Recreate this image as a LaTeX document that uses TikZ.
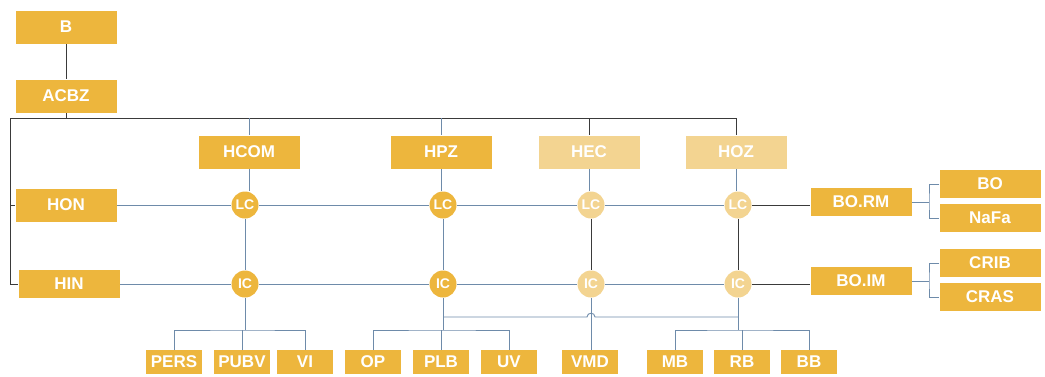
\documentclass[tikz,border=0pt]{standalone}
\usepackage{fontspec}
\setmainfont{Liberation Sans}
\usetikzlibrary{backgrounds}
\begin{document}
\begin{tikzpicture}[x=1pt,y=-1pt,
  box/.style={fill=gold,draw=none,inner sep=0pt,text=white,font=\bfseries\fontsize{17}{20}\selectfont,minimum width=101pt,minimum height=33pt},
  lbox/.style={box,fill=lgold},
  sbox/.style={box,minimum height=28pt},
  bbox/.style={box,minimum width=56pt,minimum height=24pt},
  circ/.style={circle,fill=gold,draw=none,inner sep=0pt,minimum size=27pt,text=white,font=\bfseries\fontsize{14}{16}\selectfont},
  lcirc/.style={circ,fill=lgold},
  bl/.style={draw=blueg,line width=0.9pt},
  dk/.style={draw=darkl,line width=0.9pt}]
\definecolor{gold}{HTML}{EDB63D}
\definecolor{lgold}{HTML}{F3D491}
\definecolor{blueg}{HTML}{6E8BAA}
\definecolor{darkl}{HTML}{3A3A3A}
\useasboundingbox (0,0) rectangle (1045,376);
% top boxes
\node[box] (b) at (66,27) {B};
\node[box] (acbz) at (66,96) {ACBZ};
\node[box] (hcom) at (249,152) {HCOM};
\node[box] (hpz) at (441,152) {HPZ};
\node[lbox] (hec) at (589,152) {HEC};
\node[lbox] (hoz) at (736,152) {HOZ};
\node[box] (hon) at (66,205) {HON};
\node[box,minimum height=28pt] (hin) at (69,284) {HIN};
% circles
\node[circ] (lc1) at (245,205) {LC};
\node[circ] (lc2) at (443,205) {LC};
\node[lcirc] (lc3) at (591,205) {LC};
\node[lcirc] (lc4) at (738,205) {LC};
\node[circ] (ic1) at (245,284) {IC};
\node[circ] (ic2) at (443,284) {IC};
\node[lcirc] (ic3) at (591,284) {IC};
\node[lcirc] (ic4) at (738,284) {IC};
% right boxes
\node[sbox] (borm) at (861,202) {BO.RM};
\node[sbox] (boim) at (861,281) {BO.IM};
\node[sbox] (bo) at (990,184) {BO};
\node[sbox] (nafa) at (990,218) {NaFa};
\node[sbox] (crib) at (990,263) {CRIB};
\node[sbox] (cras) at (990,297) {CRAS};
% bottom boxes
\node[bbox] (pers) at (174,362) {PERS};
\node[bbox] (pubv) at (242,362) {PUBV};
\node[bbox] (vi) at (305,362) {VI};
\node[bbox] (op) at (373,362) {OP};
\node[bbox] (plb) at (441,362) {PLB};
\node[bbox] (uv) at (509,362) {UV};
\node[bbox] (vmd) at (590,362) {VMD};
\node[bbox] (mb) at (675,362) {MB};
\node[bbox] (rb) at (742,362) {RB};
\node[bbox] (bb) at (809,362) {BB};
% coordinates
\coordinate (t0) at (10,118);
\coordinate (bus1) at (245,330);
\coordinate (bus2) at (443,330);
\coordinate (bus3) at (738,330);
\coordinate (j2) at (443,317);
\coordinate (j4) at (738,317);
\coordinate (h1) at (587,317);
\coordinate (h2) at (595,317);
\coordinate (rb1) at (929,202);
\coordinate (rb2) at (929,281);
\begin{scope}[on background layer]
% dark structure
\draw[dk] (b) -- (acbz);
\draw[dk] (acbz.south) -- (acbz.south |- t0);
\draw[dk] (t0) -- (hoz.north |- t0) -- (hoz.north);
\draw[dk] (hec.north |- t0) -- (hec.north);
\draw[dk] (t0) |- (hon.west);
\draw[dk] (t0) |- (hin.west);
\draw[bl] (hcom.north |- t0) -- (hcom.north);
\draw[bl] (hpz.north |- t0) -- (hpz.north);
% head to LC
\draw[bl] (hcom.south) -- (hcom.south |- lc1.north);
\draw[bl] (hpz.south) -- (hpz.south |- lc2.north);
\draw[bl] (hec.south) -- (hec.south |- lc3.north);
\draw[bl] (hoz.south) -- (hoz.south |- lc4.north);
% rows
\draw[bl] (hon) -- (lc1) -- (lc2) -- (lc3) -- (lc4);
\draw[bl] (hin) -- (ic1) -- (ic2) -- (ic3) -- (ic4);
% columns
\draw[bl] (lc1) -- (ic1);
\draw[bl] (lc2) -- (ic2);
\draw[dk] (lc3) -- (ic3);
\draw[dk] (lc4) -- (ic4);
% right side
\draw[dk] (lc4.east) -- (lc4.east -| borm.west);
\draw[dk] (ic4.east) -- (ic4.east -| boim.west);
\draw[bl] (borm.east) -- (rb1);
\draw[bl] (bo.west) -| (rb1) |- (nafa.west);
\draw[bl] (boim.east) -- (rb2);
\draw[bl] (crib.west) -| (rb2) |- (cras.west);
% bottom buses
\draw[bl] (ic1) -- (bus1);
\draw[bl] (pers.north) |- (bus1) -| (vi.north);
\draw[bl] (pubv.north) -- (pubv.north |- bus1);
\draw[bl] (ic2) -- (bus2);
\draw[bl] (op.north) |- (bus2) -| (uv.north);
\draw[bl] (plb.north) -- (plb.north |- bus2);
\draw[bl] (ic4) -- (bus3);
\draw[bl] (mb.north) |- (bus3) -| (bb.north);
\draw[bl] (rb.north) -- (rb.north |- bus3);
\draw[bl] (j2) -- (h1) .. controls (587,312) and (595,312) .. (h2) -- (j4);
\draw[bl] (ic3) -- (ic3 |- vmd.north);
\end{scope}
\end{tikzpicture}
\end{document}
